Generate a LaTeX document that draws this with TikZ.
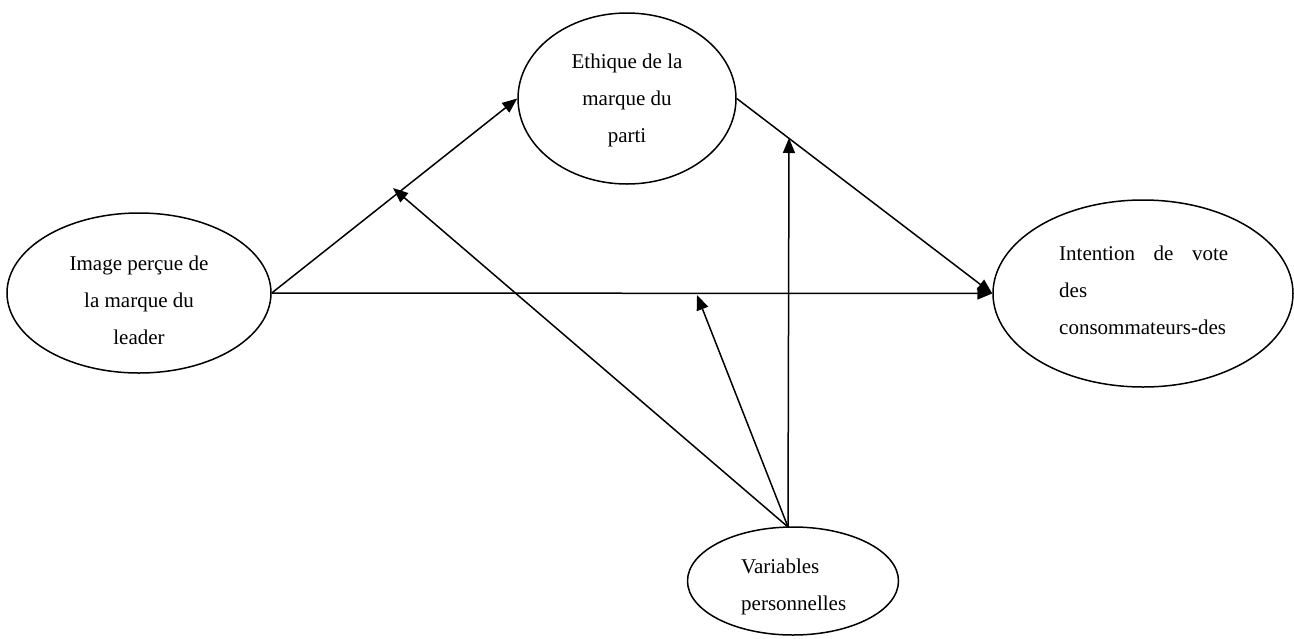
\documentclass[tikz,border=0pt]{standalone}
\usepackage{fontspec}
\setmainfont{Liberation Serif}
\usetikzlibrary{shapes.geometric,arrows.meta}
\begin{document}
\begin{tikzpicture}[x=1pt,y=-1pt,
  ell/.style={draw, ellipse, line width=1.5pt, inner sep=0pt},
  lbl/.style={font=\fontsize{21}{37}\selectfont, inner sep=0pt},
  arr/.style={line width=1.5pt, -{Triangle[length=15pt,width=12pt]}},
  conn/.style={line width=1.5pt}]
\useasboundingbox (0,0) rectangle (1294,638);
% ellipses
\node[ell, minimum width=264pt, minimum height=160pt] (L) at (139,293) {};
\node[ell, minimum width=218pt, minimum height=171pt] (T) at (627,98.5) {};
\node[ell, minimum width=300pt, minimum height=187pt] (R) at (1143,293.5) {};
\node[ell, minimum width=211pt, minimum height=108pt] (B) at (793,581) {};
% texts
\node[lbl, align=center] (Lt) at (139,300) {Image perçue de\\la marque du\\leader};
\node[lbl, align=center] (Tt) at (627,100) {Ethique de la\\marque du\\parti};
\node[lbl, align=left, anchor=west] (Rt) at (1059,290) {\makebox[169pt][s]{Intention de vote}\\des\\consommateurs-des};
\node[lbl, align=left, anchor=west] (Bt) at (741,587) {Variables\\personnelles};
% coordinates
\coordinate (src) at (788,527);
\coordinate (m1) at (393,188);
\coordinate (m2) at (789,138);
\coordinate (m3) at (697,295);
% connectors
\draw[arr] (L.east) -- (T.west);
\draw[arr] (L.east) -- (R.west);
\draw[arr] (T.east) -- (R.west);
\draw[arr] (src) -- (m1);
\draw[arr] (src) -- (m2);
\draw[arr] (src) -- (m3);
\end{tikzpicture}
\end{document}
